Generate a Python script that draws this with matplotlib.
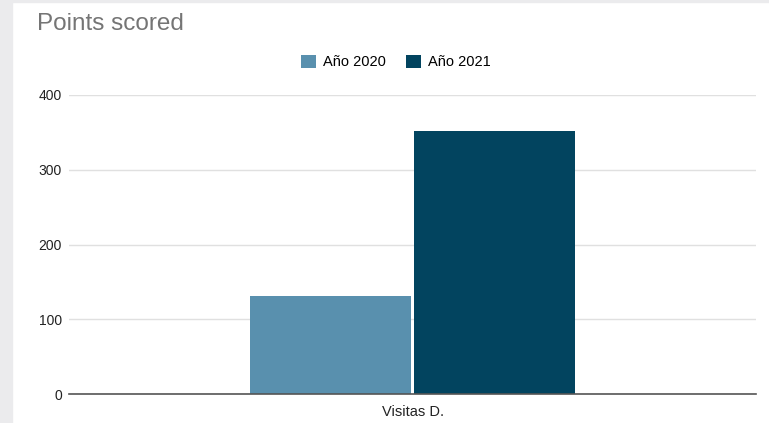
import numpy as np
import matplotlib.pyplot as plt
from matplotlib.patches import Rectangle

plt.rcParams['font.family'] = ['Liberation Sans', 'DejaVu Sans']

categories = ['Visitas D.']
series_names = ['Año 2020', 'Año 2021']
values_2020 = [131]
values_2021 = [351]
colors = ['#5990ae', '#02445f']

fig = plt.figure(figsize=(7.69, 4.23), dpi=100)
fig.patch.set_facecolor('white')
# gray frame of the screenshot (left and top strips)
fig.patches.append(Rectangle((0, 0), 12 / 769, 1, transform=fig.transFigure,
                             color='#ebebed', zorder=0))
fig.patches.append(Rectangle((0, 1 - 2 / 423), 1, 2 / 423, transform=fig.transFigure,
                             color='#ebebed', zorder=0))

ax = fig.add_axes([69 / 769, 1 - 394.3 / 423, (756 - 69) / 769, (394.3 - 94.7) / 423])

x = np.arange(len(categories))
w = 0.234
ax.bar(x - w / 2 - 0.002, values_2020, w, color=colors[0], label=series_names[0], zorder=2)
ax.bar(x + w / 2 + 0.002, values_2021, w, color=colors[1], label=series_names[1], zorder=2)

ax.set_xlim(-0.5, 0.5)
ax.set_ylim(0, 400)
ax.set_yticks([0, 100, 200, 300, 400])
ax.set_xticks(x)
ax.set_xticklabels(categories)
ax.tick_params(axis='both', length=0, colors='#222222')
ax.tick_params(axis='y', pad=5, labelsize=10)
ax.tick_params(axis='x', pad=8, labelsize=10.5)
ax.grid(axis='y', color='#e0e0e0', linewidth=1, zorder=0)
for s in ['top', 'right', 'left']:
    ax.spines[s].set_visible(False)
ax.spines['bottom'].set_color('#555555')
ax.spines['bottom'].set_linewidth(1.2)
ax.spines['bottom'].set_zorder(3)

fig.text(37 / 769, 1 - 24 / 423, 'Points scored', fontsize=17.5, color='#757575',
         va='center', ha='left')

fig.legend(loc='center', bbox_to_anchor=(396 / 769, 1 - 62 / 423), ncol=2, frameon=False,
           fontsize=10.5, handlelength=1.0, handleheight=1.0, handletextpad=0.5,
           columnspacing=1.4)

fig.savefig('out.png', dpi=100)
